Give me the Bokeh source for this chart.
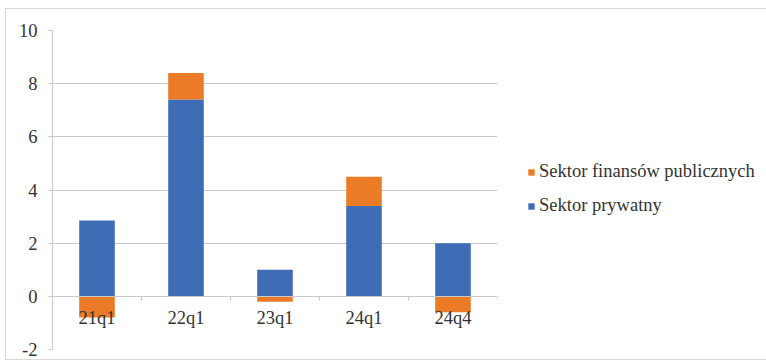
from bokeh.plotting import figure
from bokeh.models import (Range1d, FixedTicker, LinearAxis, Legend, LegendItem, ColumnDataSource)
from bokeh.embed import file_html
from bokeh.resources import INLINE

categories = ["21q1", "22q1", "23q1", "24q1", "24q4"]
private_sector = [2.85, 7.4, 1.0, 3.4, 2.0]
public_sector = [-0.8, 1.0, -0.2, 1.1, -0.6]
y_ticks = [-2, 0, 2, 4, 6, 8, 10]
y_tick_labels = ["-2", "0", "2", "4", "6", "8", "10"]
series_names = ["Sektor finansów publicznych", "Sektor prywatny"]

BLUE = "#3E6DB5"
ORANGE = "#EB7B26"
GRID = "#c9c9c9"
TEXT = "#333333"
FONT = "Liberation Serif"
FS = "18.5px"

n = len(categories)
centers = [i + 0.5 for i in range(n)]
pub_bottom = [p if v >= 0 else 0 for p, v in zip(private_sector, public_sector)]
pub_top = [p + v if v >= 0 else v for p, v in zip(private_sector, public_sector)]

src_priv = ColumnDataSource(dict(x=centers, top=private_sector, bottom=[0] * n))
src_pub = ColumnDataSource(dict(x=centers, top=pub_top, bottom=pub_bottom))

p = figure(x_range=Range1d(0, n), y_range=Range1d(y_ticks[0], y_ticks[-1]),
           frame_width=445, frame_height=319, output_backend="svg", toolbar_location=None,
           min_border_left=46, min_border_top=21, min_border_bottom=10, min_border_right=265)
p.margin = (8, 5, 5, 5)
p.styles = {"border": "1px solid #d9d9d9"}
p.outline_line_color = None

r_priv = p.vbar(x="x", top="top", bottom="bottom", width=0.4, source=src_priv, color=BLUE, line_color=None)
r_pub = p.vbar(x="x", top="top", bottom="bottom", width=0.4, source=src_pub, color=ORANGE, line_color=None)

# y axis
p.yaxis.ticker = FixedTicker(ticks=y_ticks)
p.yaxis.major_label_overrides = {t: lab for t, lab in zip(y_ticks, y_tick_labels)}
p.yaxis.axis_line_color = GRID
p.yaxis.major_tick_line_color = GRID
p.yaxis.major_tick_in = 0
p.yaxis.major_tick_out = 4
p.yaxis.minor_tick_line_color = None
p.yaxis.major_label_text_font = FONT
p.yaxis.major_label_text_font_size = FS
p.yaxis.major_label_text_color = TEXT
p.yaxis.major_label_standoff = 11

p.ygrid.ticker = FixedTicker(ticks=y_ticks)
p.ygrid.grid_line_color = GRID
p.xgrid.grid_line_color = None

# x axis at zero, labels at category centres
p.xaxis.fixed_location = 0
p.xaxis.ticker = FixedTicker(ticks=centers)
p.xaxis.major_label_overrides = {c: lab for c, lab in zip(centers, categories)}
p.xaxis.axis_line_color = GRID
p.xaxis.major_tick_line_color = None
p.xaxis.minor_tick_line_color = None
p.xaxis.major_label_text_font = FONT
p.xaxis.major_label_text_font_size = FS
p.xaxis.major_label_text_color = TEXT
p.xaxis.major_label_standoff = 6

# boundary ticks
bounds = list(range(n + 1))
tick_axis = LinearAxis(ticker=FixedTicker(ticks=bounds),
                       fixed_location=0, axis_line_color=None, major_tick_line_color=GRID,
                       major_tick_in=0, major_tick_out=4, minor_tick_line_color=None,
                       major_label_text_alpha=0)
p.add_layout(tick_axis, "below")

legend = Legend(items=[LegendItem(label=series_names[0], renderers=[r_pub]),
                       LegendItem(label=series_names[1], renderers=[r_priv])],
                location=(30, 133), padding=0, margin=0, spacing=13,
                glyph_width=8, glyph_height=8, label_height=20, label_standoff=4,
                border_line_color=None, background_fill_alpha=0,
                label_text_font=FONT, label_text_font_size=FS, label_text_color=TEXT)
p.add_layout(legend, "right")

open("out.html", "w").write(file_html(p, INLINE))
